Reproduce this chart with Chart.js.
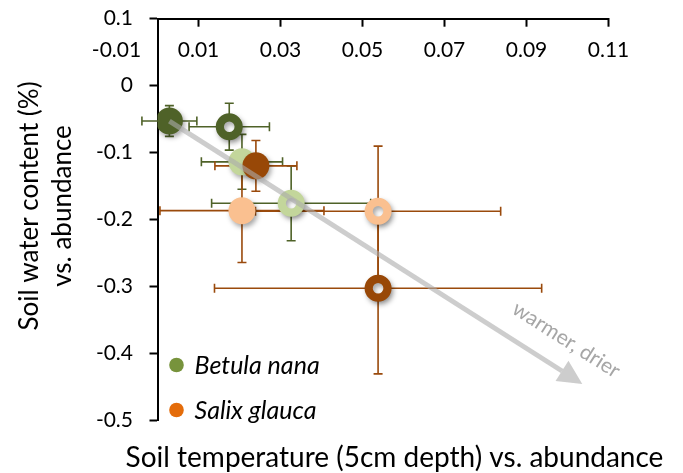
<!DOCTYPE html>
<html><head><meta charset="utf-8">
<script src="https://cdn.jsdelivr.net/npm/chart.js@4.4.1/dist/chart.umd.min.js"></script>
<style>html,body{margin:0;padding:0;background:#fff;}</style>
</head><body>
<canvas id="c" width="683" height="473"></canvas>
<script>
// ---- data ----
const seriesNames = ['Betula nana', 'Salix glauca'];
const legendColors = ['#77933C', '#E46C0A'];

const betulaX    = [0.0029, 0.0175, 0.0206, 0.0326];
const betulaY    = [-0.053, -0.0615, -0.114, -0.176];
const betulaXErr = [0.0067, 0.0098, 0.0099, 0.0194];
const betulaYErr = [0.023, 0.035, 0.041, 0.056];
const betulaColors = ['#4F6228', '#4F6228', '#C3D69B', '#C3D69B'];
const betulaRing   = [false, true, false, true];

const salixX    = [0.0240, 0.0206, 0.0538, 0.0538];
const salixY    = [-0.120, -0.187, -0.188, -0.303];
const salixXErr = [0.0100, 0.0200, 0.0299, 0.0399];
const salixYErr = [0.038, 0.0775, 0.0975, 0.128];
const salixColors = ['#984807', '#FAC090', '#FAC090', '#984807'];
const salixRing   = [false, false, true, true];

const xTickValues = [-0.01, 0.01, 0.03, 0.05, 0.07, 0.09, 0.11];
const xTickLabels = ['-0.01', '0.01', '0.03', '0.05', '0.07', '0.09', '0.11'];
const yTickValues = [-0.5, -0.4, -0.3, -0.2, -0.1, 0, 0.1];
const yTickLabels = ['-0.5', '-0.4', '-0.3', '-0.2', '-0.1', '0', '0.1'];

const arrowFrom = [0.0029, -0.053];
const arrowTo   = [0.1036, -0.446];
const arrowLabel = 'warmer, drier';
const xTitle = 'Soil temperature (5cm depth) vs. abundance';
const yTitle = ['Soil water content (%)', 'vs. abundance'];

// ---- helpers ----
const pts = (xs, ys) => xs.map((x, i) => ({x: x, y: ys[i]}));
const FILL_R = 13.5, RING_R = 9.4, RING_W = 8.2;

const decor = {
  id: 'decor',
  beforeDatasetsDraw(chart) {
    const ctx = chart.ctx, sx = chart.scales.x, sy = chart.scales.y;
    const bars = [
      [betulaX, betulaY, betulaXErr, betulaYErr, '#4F6228'],
      [salixX, salixY, salixXErr, salixYErr, '#9A4A0C']
    ];
    ctx.save();
    ctx.lineWidth = 1.6;
    const cap = 4.5;
    bars.forEach(([xs, ys, xe, ye, col]) => {
      ctx.strokeStyle = col;
      xs.forEach((x, i) => {
        const px = sx.getPixelForValue(x), py = sy.getPixelForValue(ys[i]);
        const l = sx.getPixelForValue(x - xe[i]), r = sx.getPixelForValue(x + xe[i]);
        const t = sy.getPixelForValue(ys[i] + ye[i]), b = sy.getPixelForValue(ys[i] - ye[i]);
        ctx.beginPath();
        ctx.moveTo(l, py); ctx.lineTo(r, py);
        ctx.moveTo(l, py - cap); ctx.lineTo(l, py + cap);
        ctx.moveTo(r, py - cap); ctx.lineTo(r, py + cap);
        ctx.moveTo(px, t); ctx.lineTo(px, b);
        ctx.moveTo(px - cap, t); ctx.lineTo(px + cap, t);
        ctx.moveTo(px - cap, b); ctx.lineTo(px + cap, b);
        ctx.stroke();
      });
    });
    ctx.restore();
    ctx.save();
    ctx.shadowColor = 'rgba(0,0,0,0.35)';
    ctx.shadowBlur = 5;
    ctx.shadowOffsetX = 2;
    ctx.shadowOffsetY = 3;
  },
  afterDatasetsDraw(chart) {
    const ctx = chart.ctx, sx = chart.scales.x, sy = chart.scales.y;
    ctx.restore();
    // arrow
    const x1 = sx.getPixelForValue(arrowFrom[0]), y1 = sy.getPixelForValue(arrowFrom[1]);
    const x2 = sx.getPixelForValue(arrowTo[0]), y2 = sy.getPixelForValue(arrowTo[1]);
    const ang = Math.atan2(y2 - y1, x2 - x1);
    const headL = 24, headW = 12;
    const bx = x2 - headL * Math.cos(ang), by = y2 - headL * Math.sin(ang);
    ctx.save();
    ctx.globalAlpha = 0.6;
    ctx.strokeStyle = '#ABABAB';
    ctx.fillStyle = '#ABABAB';
    ctx.lineWidth = 5;
    ctx.beginPath(); ctx.moveTo(x1, y1); ctx.lineTo(bx, by); ctx.stroke();
    ctx.beginPath();
    ctx.moveTo(x2, y2);
    ctx.lineTo(bx + headW * Math.sin(ang), by - headW * Math.cos(ang));
    ctx.lineTo(bx - headW * Math.sin(ang), by + headW * Math.cos(ang));
    ctx.closePath(); ctx.fill();
    ctx.restore();
    // arrow label
    ctx.save();
    ctx.translate(x2 - 16, y2 - 44);
    ctx.rotate(ang);
    ctx.fillStyle = '#A6A6A6';
    ctx.font = '21px Lato';
    ctx.textAlign = 'center';
    ctx.textBaseline = 'middle';
    ctx.fillText(arrowLabel, 0, 0);
    ctx.restore();
  },
  afterDraw(chart) {
    const ctx = chart.ctx, a = chart.chartArea;
    ctx.save();
    // legend
    const lx = a.left + 19, ly = [365, 410];
    seriesNames.forEach((n, i) => {
      ctx.fillStyle = legendColors[i];
      ctx.beginPath(); ctx.arc(lx, ly[i], 7.3, 0, Math.PI * 2); ctx.fill();
      ctx.fillStyle = '#000';
      ctx.font = 'italic 25px Lato';
      ctx.textAlign = 'left';
      ctx.textBaseline = 'middle';
      ctx.fillText(n, lx + 18, ly[i] + 1);
    });
    // axis titles
    ctx.fillStyle = '#000';
    ctx.textAlign = 'center';
    ctx.textBaseline = 'middle';
    ctx.font = '28px Lato';
    ctx.fillText(xTitle, 394.5, 458);
    ctx.font = '26px Lato';
    ctx.save();
    ctx.translate(30, 206);
    ctx.rotate(-Math.PI / 2);
    ctx.fillText(yTitle[0], 0, 0);
    ctx.fillText(yTitle[1], 0, 33);
    ctx.restore();
    ctx.restore();
  }
};

const tickFont = {family: 'Lato', size: 21, lineHeight: 1.2};

new Chart(document.getElementById('c'), {
  type: 'scatter',
  data: {
    datasets: [
      {
        label: seriesNames[0],
        data: pts(betulaX, betulaY),
        order: 2,
        pointBackgroundColor: betulaColors.map((c, i) => betulaRing[i] ? '#FFFFFF' : c),
        pointBorderColor: betulaColors,
        pointRadius: betulaRing.map(r => r ? RING_R : FILL_R),
        pointBorderWidth: betulaRing.map(r => r ? RING_W : 0)
      },
      {
        label: seriesNames[1],
        data: pts(salixX, salixY),
        order: 1,
        pointBackgroundColor: salixColors.map((c, i) => salixRing[i] ? '#FFFFFF' : c),
        pointBorderColor: salixColors,
        pointRadius: salixRing.map(r => r ? RING_R : FILL_R),
        pointBorderWidth: salixRing.map(r => r ? RING_W : 0)
      }
    ]
  },
  options: {
    responsive: false,
    animation: false,
    events: [],
    layout: {padding: {left: 0, top: 0, right: 74.5, bottom: 53}},
    plugins: {legend: {display: false}, tooltip: {enabled: false}},
    scales: {
      x: {
        type: 'linear',
        position: 'top',
        min: 0, max: 0.11,
        afterBuildTicks: s => { s.ticks = xTickValues.map(v => ({value: v})); },
        afterFit: s => { s.height = 18.7; },
        ticks: {
          mirror: true, padding: 18.7, autoSkip: false, maxRotation: 0, minRotation: 0,
          color: '#000', font: tickFont,
          callback: (v, i) => xTickLabels[i]
        },
        grid: {
          display: true, drawOnChartArea: false, drawTicks: true, tickLength: -8, tickWidth: 2,
          tickColor: c => (c.tick && c.tick.value < 0) ? 'rgba(0,0,0,0)' : '#000'
        },
        border: {display: true, color: '#000', width: 2}
      },
      y: {
        type: 'linear',
        position: 'left',
        min: -0.5, max: 0.1,
        afterBuildTicks: s => { s.ticks = yTickValues.map(v => ({value: v})); },
        afterFit: s => { s.width = 157.5; s.paddingTop = 0; s.paddingBottom = 0; },
        ticks: {
          padding: 16.5, autoSkip: false, color: '#000', font: tickFont,
          callback: (v, i) => yTickLabels[i]
        },
        grid: {display: true, drawOnChartArea: false, drawTicks: true, tickLength: 8, tickWidth: 2, tickColor: '#000'},
        border: {display: true, color: '#000', width: 2}
      }
    }
  },
  plugins: [decor]
});
</script>
</body></html>
